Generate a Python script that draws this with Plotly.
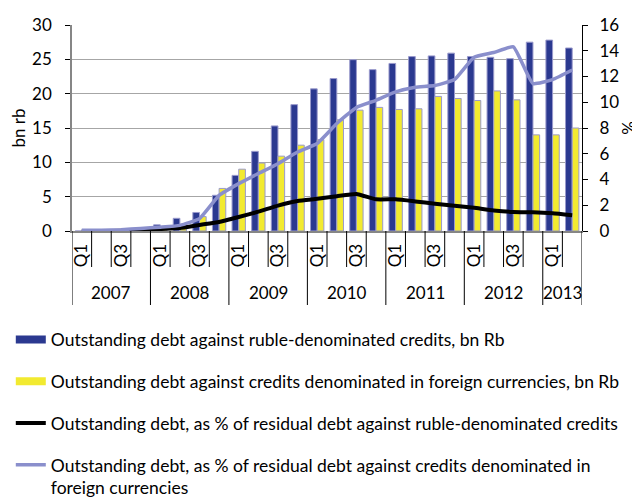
import plotly.graph_objects as go

years = ["2007"] * 4 + ["2008"] * 4 + ["2009"] * 4 + ["2010"] * 4 + ["2011"] * 4 + ["2012"] * 4 + ["2013"] * 2
quarter_pattern = ["Q1", "Q2", "Q3", "Q4"]
quarter_shown = ["Q1\u00a0", "", "Q3\u00a0", ""]
quarters = [quarter_pattern[i % 4] for i in range(len(years))]
quarter_labels = [quarter_shown[i % 4] for i in range(len(years))]
periods = [f"{y} {q}" for y, q in zip(years, quarters)]

ruble_debt = [0, 0, 0, 0.05, 0.9, 1.85, 2.7, 5.2, 8.1, 11.6, 15.3, 18.4, 20.7, 22.2, 24.95, 23.5,
              24.4, 25.4, 25.5, 25.9, 25.4, 25.3, 25.1, 27.5, 27.8, 26.65]
foreign_debt = [0, 0, 0, 0, 0.2, 0.5, 2.1, 6.2, 9.0, 9.9, 10.9, 12.5, 13.3, 16.2, 17.6, 18.0,
                17.7, 17.8, 19.6, 19.3, 19.0, 20.4, 19.1, 14.0, 14.0, 15.0]
ruble_pct = [0, 0, 0.02, 0.05, 0.15, 0.23, 0.47, 0.7, 1.09, 1.5, 1.97, 2.33, 2.5, 2.7, 2.88, 2.46,
             2.46, 2.3, 2.12, 1.97, 1.8, 1.6, 1.48, 1.45, 1.37, 1.22]
foreign_pct = [0.05, 0.05, 0.1, 0.2, 0.3, 0.44, 0.96, 2.77, 3.68, 4.46, 5.23, 6.14, 6.8, 8.35, 9.6, 10.15,
               10.8, 11.17, 11.3, 11.76, 13.5, 13.86, 14.3, 11.45, 11.76, 12.5]

names = [
    "Outstanding debt against ruble-denominated credits, bn Rb",
    "Outstanding debt against credits denominated in foreign currencies, bn Rb",
    "Outstanding debt, as % of residual debt against ruble-denominated credits",
    "Outstanding debt, as % of residual debt against credits denominated in<br>foreign currencies",
]

FONT = "Lato"
FS = 17
LFS = 17.5
BLUE = "#2B3990"
YELLOW = "#F2EA30"
PLOT_H = 206

fig = go.Figure()
fig.add_trace(go.Bar(x=periods, y=ruble_debt, name=names[0], showlegend=False,
                     marker=dict(color=BLUE, line=dict(color="#9A9ACC", width=1))))
fig.add_trace(go.Bar(x=periods, y=foreign_debt, name=names[1], showlegend=False,
                     marker=dict(color=YELLOW, line=dict(color="#9A9ACC", width=1))))
# legend keys for the bars (wide rectangles as in the reference)
fig.add_trace(go.Scatter(x=[None], y=[None], name=names[0], legendgroup="a", mode="lines",
                         line=dict(color=BLUE, width=8)))
fig.add_trace(go.Scatter(x=[None], y=[None], name=names[1], legendgroup="b", mode="lines",
                         line=dict(color=YELLOW, width=8)))
fig.add_trace(go.Scatter(x=periods, y=ruble_pct, name=names[2], legendgroup="c", yaxis="y2",
                         mode="lines", line=dict(color="#000000", width=4, shape="spline", smoothing=0.4)))
fig.add_trace(go.Scatter(x=periods, y=foreign_pct, name=names[3], legendgroup="d", yaxis="y2",
                         mode="lines", line=dict(color="#8A8FCC", width=3.5, shape="spline", smoothing=0.4)))

# quarter boundary tick lines and year dividers / labels
n = len(years)
year_starts = [i for i in range(n) if i == 0 or years[i] != years[i - 1]] + [n]
for i in range(n + 1):
    long_line = i in year_starts
    fig.add_shape(type="line", xref="x", yref="paper", x0=i - 0.5, x1=i - 0.5,
                  y0=0, y1=-(74 if long_line else 36) / PLOT_H, line=dict(color="#000000", width=1))
for a, b in zip(year_starts[:-1], year_starts[1:]):
    fig.add_annotation(x=(a + b - 1) / 2, xref="x", y=-61 / PLOT_H, yref="paper",
                       text=years[a], showarrow=False, yanchor="middle", xanchor="center",
                       font=dict(family=FONT, size=FS, color="#000000"))

# page has an 8px body margin, so the figure is 632x493 drawn at (8, 8)
fig.update_layout(
    width=632, height=493,
    margin=dict(l=64, r=58, t=17, b=270, autoexpand=False),
    paper_bgcolor="white", plot_bgcolor="white",
    font=dict(family=FONT, size=FS, color="#000000"),
    barmode="group", bargap=0.32, bargroupgap=0,
    showlegend=True,
    legend=dict(x=-0.12, y=-0.44, xanchor="left", yanchor="top", orientation="v",
                font=dict(family=FONT, size=LFS, color="#000000"), tracegroupgap=16,
                valign="top", bgcolor="rgba(0,0,0,0)", itemwidth=30),
    xaxis=dict(type="category", automargin=False, showgrid=False, showline=True,
               linecolor="#868686", linewidth=1.5, ticks="",
               tickmode="array", tickvals=periods, ticktext=quarter_labels,
               tickangle=-90, tickfont=dict(family=FONT, size=FS), range=[-0.5, n - 0.5]),
    yaxis=dict(range=[0, 30], dtick=5, automargin=False, showgrid=True, gridcolor="#A6A6A6", gridwidth=1,
               showline=True, linecolor="#868686", linewidth=1.5, ticks="outside", ticklen=5,
               tickcolor="#000000", ticklabelstandoff=10,
               title=dict(text="bn rb", font=dict(family=FONT, size=FS), standoff=10),
               zeroline=False, tickfont=dict(family=FONT, size=FS)),
    yaxis2=dict(range=[0, 16], dtick=2, automargin=False, overlaying="y", side="right", showgrid=False,
                showline=True, linecolor="#000000", linewidth=1, ticks="outside", ticklen=5,
                tickcolor="#000000", ticklabelstandoff=8,
                title=dict(text="%", font=dict(family=FONT, size=FS), standoff=4),
                zeroline=False, tickfont=dict(family=FONT, size=FS)),
)

fig.write_html("out.html")
